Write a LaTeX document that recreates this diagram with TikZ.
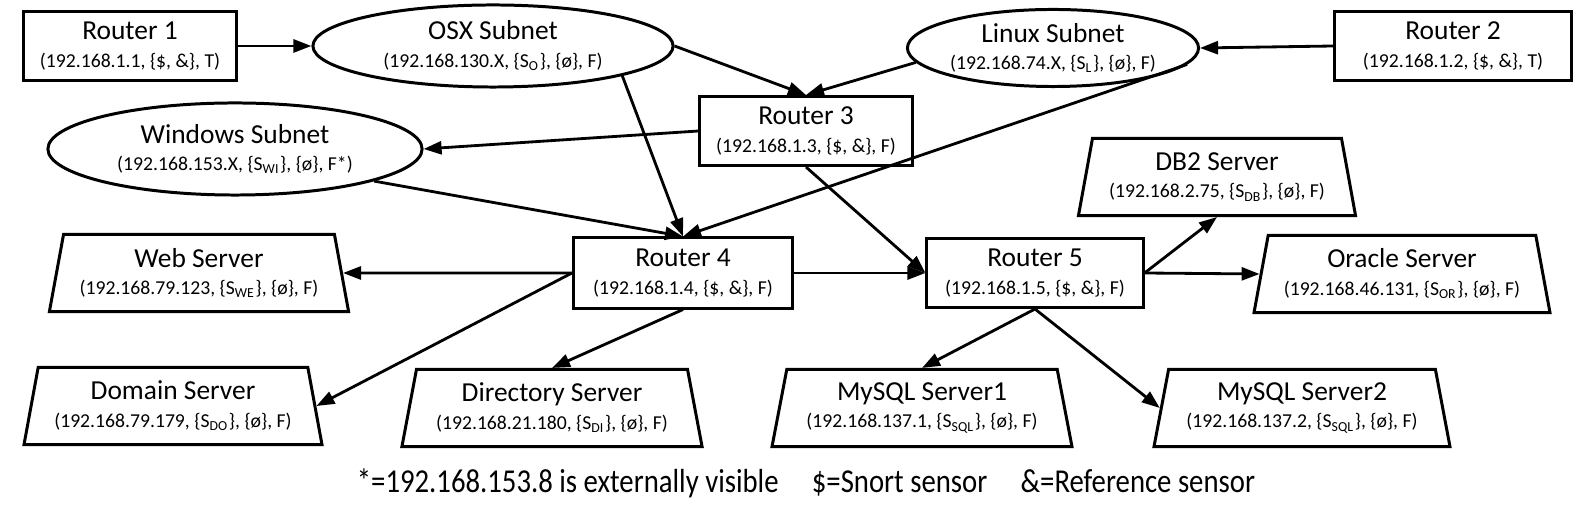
\documentclass[tikz,border=0pt]{standalone}
\usepackage{fontspec}
\setmainfont{Carlito}
\usetikzlibrary{shapes.geometric,arrows.meta}

\newcommand{\addr}[1]{\\[-1.2pt]{\fontsize{5.6}{6.5}\selectfont #1}}

\tikzset{
  every node/.style={font=\fontsize{7.8}{9}\selectfont, align=center, inner sep=0pt},
  router/.style={draw, line width=0.85pt, minimum width=2.12cm, minimum height=0.69cm},
  subnet/.style={draw, ellipse, line width=0.85pt},
  server/.style={draw, trapezium, trapezium left angle=76, trapezium right angle=76,
    trapezium stretches=true, minimum width=3cm, minimum height=0.77cm, line width=0.85pt},
  link/.style={-{Triangle[length=0.18cm,width=0.13cm]}, line width=0.8pt},
}

\begin{document}
\begin{tikzpicture}[x=0.01cm, y=-0.01cm]
  \useasboundingbox (0,0) rectangle (1581,507);

  % routers
  \node[router] (r1) at (130,46) {Router 1\addr{(192.168.1.1, \{\$, \&\}, T)}};
  \node[router, minimum width=2.36cm] (r2) at (1453,46) {Router 2\addr{(192.168.1.2, \{\$, \&\}, T)}};
  \node[router] (r3) at (806,131) {Router 3\addr{(192.168.1.3, \{\$, \&\}, F)}};
  \node[router, minimum width=2.19cm, minimum height=0.7cm] (r4) at (683,273) {Router 4\addr{(192.168.1.4, \{\$, \&\}, F)}};
  \node[router, minimum width=2.16cm] (r5) at (1035,273) {Router 5\addr{(192.168.1.5, \{\$, \&\}, F)}};

  % subnets
  \node[subnet, minimum width=3.6cm, minimum height=0.82cm] (osx) at (493,46)
    {OSX Subnet\addr{(192.168.130.X, \{S\textsubscript{O}\}, \{ø\}, F)}};
  \node[subnet, minimum width=2.67cm, minimum height=0.77cm] (linux) at (1053,48)
    {Linux Subnet\addr{(192.168.74.X, \{S\textsubscript{L}\}, \{ø\}, F)}};
  \node[subnet, minimum width=3.74cm, minimum height=0.92cm] (win) at (235,149)
    {Windows Subnet\addr{(192.168.153.X, \{S\textsubscript{WI}\}, \{ø\}, F*)}};

  % servers
  \node[server] (web) at (199,273) {Web Server\addr{(192.168.79.123, \{S\textsubscript{WE}\}, \{ø\}, F)}};
  \node[server, minimum width=2.78cm] (db2) at (1217,177) {DB2 Server\addr{(192.168.2.75, \{S\textsubscript{DB}\}, \{ø\}, F)}};
  \node[server, minimum width=2.97cm] (ora) at (1402,274) {Oracle Server\addr{(192.168.46.131, \{S\textsubscript{OR}\}, \{ø\}, F)}};
  \node[server, minimum width=2.98cm] (dom) at (173,406) {Domain Server\addr{(192.168.79.179, \{S\textsubscript{DO}\}, \{ø\}, F)}};
  \node[server] (dir) at (552,408) {Directory Server\addr{(192.168.21.180, \{S\textsubscript{DI}\}, \{ø\}, F)}};
  \node[server] (my1) at (922,408) {MySQL Server1\addr{(192.168.137.1, \{S\textsubscript{SQL}\}, \{ø\}, F)}};
  \node[server, minimum width=2.96cm] (my2) at (1302,408) {MySQL Server2\addr{(192.168.137.2, \{S\textsubscript{SQL}\}, \{ø\}, F)}};

  % legend
  \node (legend) at (806,483) {\fontsize{9.5}{11}\selectfont\scalebox{0.86}[1]{*=192.168.153.8 is externally visible\hspace{11pt}\$=Snort sensor\hspace{11pt}\&=Reference sensor}};

  % links
  \draw[link] (r1.east) -- (osx.west);
  \draw[link] (r2.west) -- (linux.east);
  \draw[link] (osx.east) -- (r3.north);
  \draw[link] (linux.186) -- (r3.north);
  \draw[link] (r3.west) -- (win.east);
  \draw[link] (osx.-13) -- (r4.north);
  \draw[link] (win.-13) -- (r4.north);
  \draw[link] (linux.-7) -- (r4.north);
  \draw[link] (r3.south) -- (r5.west);
  \draw[link] (r4.east) -- (r5.west);
  \draw[link] (r4.west) -- (web.east);
  \draw[link] (r4.west) -- (dom.east);
  \draw[link] (r4.south) -- (dir.north);
  \draw[link] (r5.east) -- (db2.south);
  \draw[link] (r5.east) -- (ora.west);
  \draw[link] (r5.south) -- (my1.north);
  \draw[link] (r5.south) -- (my2.west);
\end{tikzpicture}
\end{document}
